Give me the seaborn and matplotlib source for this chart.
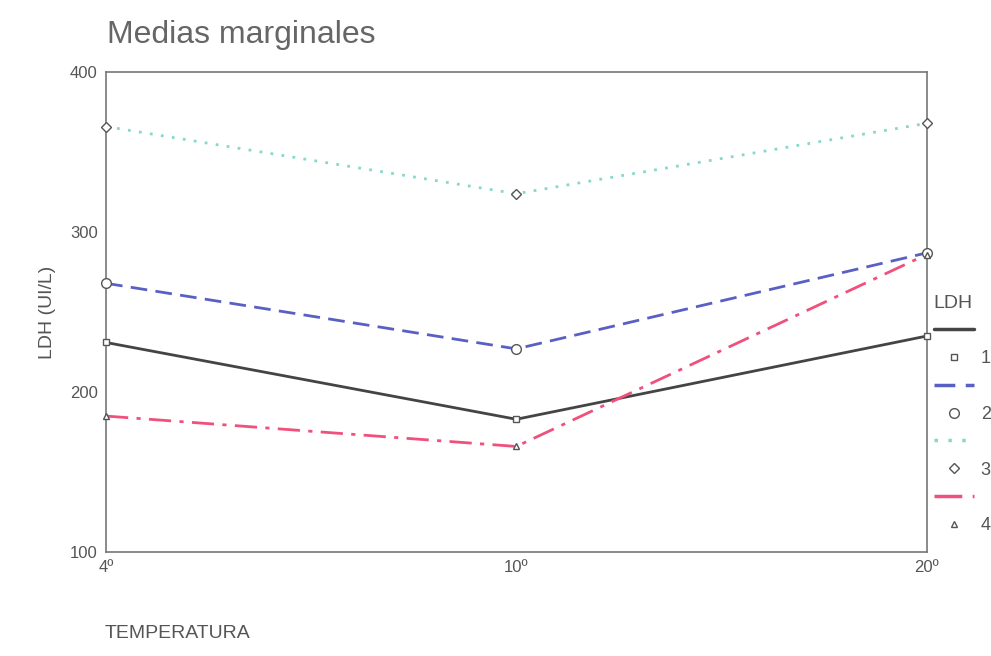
import pandas as pd
import matplotlib.pyplot as plt
import seaborn as sns
from matplotlib.lines import Line2D

# Data
temperaturas = ["4º", "10º", "20º"]
grupos = ["1", "2", "3", "4"]
ldh_1 = [231, 183, 235]
ldh_2 = [268, 227, 287]
ldh_3 = [366, 324, 368]
ldh_4 = [185, 166, 286]

# Long format table for seaborn
rows = []
for g, vals in zip(grupos, [ldh_1, ldh_2, ldh_3, ldh_4]):
    for i, v in enumerate(vals):
        rows.append({"pos": i, "LDH": g, "valor": v})
df = pd.DataFrame(rows)

colors = {"1": "#444444", "2": "#5a5fc4", "3": "#86d8cc", "4": "#f0507c"}
dashes = {"1": "", "2": (6, 3), "3": (1, 3), "4": (8, 3, 1.5, 3)}
markers = {"1": "s", "2": "o", "3": "D", "4": "^"}
msize = {"1": 5, "2": 7, "3": 5, "4": 5}

sns.set_style("white")
plt.rcParams["font.family"] = ["Liberation Sans", "DejaVu Sans"]

fig = plt.figure(figsize=(9.91, 6.56), dpi=100)
ax = fig.add_axes([0.107, 0.1585, 0.828, 0.7315])

sns.lineplot(data=df, x="pos", y="valor", hue="LDH", style="LDH",
             palette=colors, dashes=dashes, markers=False, linewidth=2,
             legend=False, ax=ax)

# markers drawn separately (hollow, dark edge like the original)
for g in grupos:
    sub = df[df["LDH"] == g]
    ax.plot(sub["pos"], sub["valor"], linestyle="none", marker=markers[g],
            markersize=msize[g], markerfacecolor="white",
            markeredgecolor="#555555", markeredgewidth=1, zorder=5,
            clip_on=False)

ax.set_xlim(0, 2)
ax.set_ylim(100, 400)
ax.set_xticks([0, 1, 2])
ax.set_xticklabels(temperaturas)
ax.set_yticks([100, 200, 300, 400])
ax.tick_params(axis="both", labelsize=12, colors="#555555", length=0, pad=6)
for s in ax.spines.values():
    s.set_color("#777777")
    s.set_linewidth(1.2)

ax.set_xlabel("")
ax.set_ylabel("LDH (UI/L)", fontsize=14, color="#555555", labelpad=10)
fig.text(0.106, 0.028, "TEMPERATURA", fontsize=14, color="#555555")
fig.text(0.108, 0.935, "Medias marginales", fontsize=23, color="#666666")

# legend: line sample, then marker with label
handles = []
labels = []
for g in grupos:
    handles.append(Line2D([], [], color=colors[g], linewidth=2.5,
                          dashes=dashes[g] if dashes[g] else (None, None)))
    labels.append("")
    handles.append(Line2D([], [], linestyle="none", marker=markers[g],
                          markersize=msize[g], markerfacecolor="white",
                          markeredgecolor="#555555"))
    labels.append(g)
leg = fig.legend(handles, labels, title="LDH", loc="upper left",
                 bbox_to_anchor=(0.935, 0.562), frameon=False,
                 fontsize=13, title_fontsize=14, handlelength=2.2,
                 labelspacing=0.6, handletextpad=0.4, borderaxespad=0)
leg._legend_box.align = "left"
for t in leg.get_texts():
    t.set_color("#555555")
leg.get_title().set_color("#555555")

plt.savefig("out.png", dpi=100)
